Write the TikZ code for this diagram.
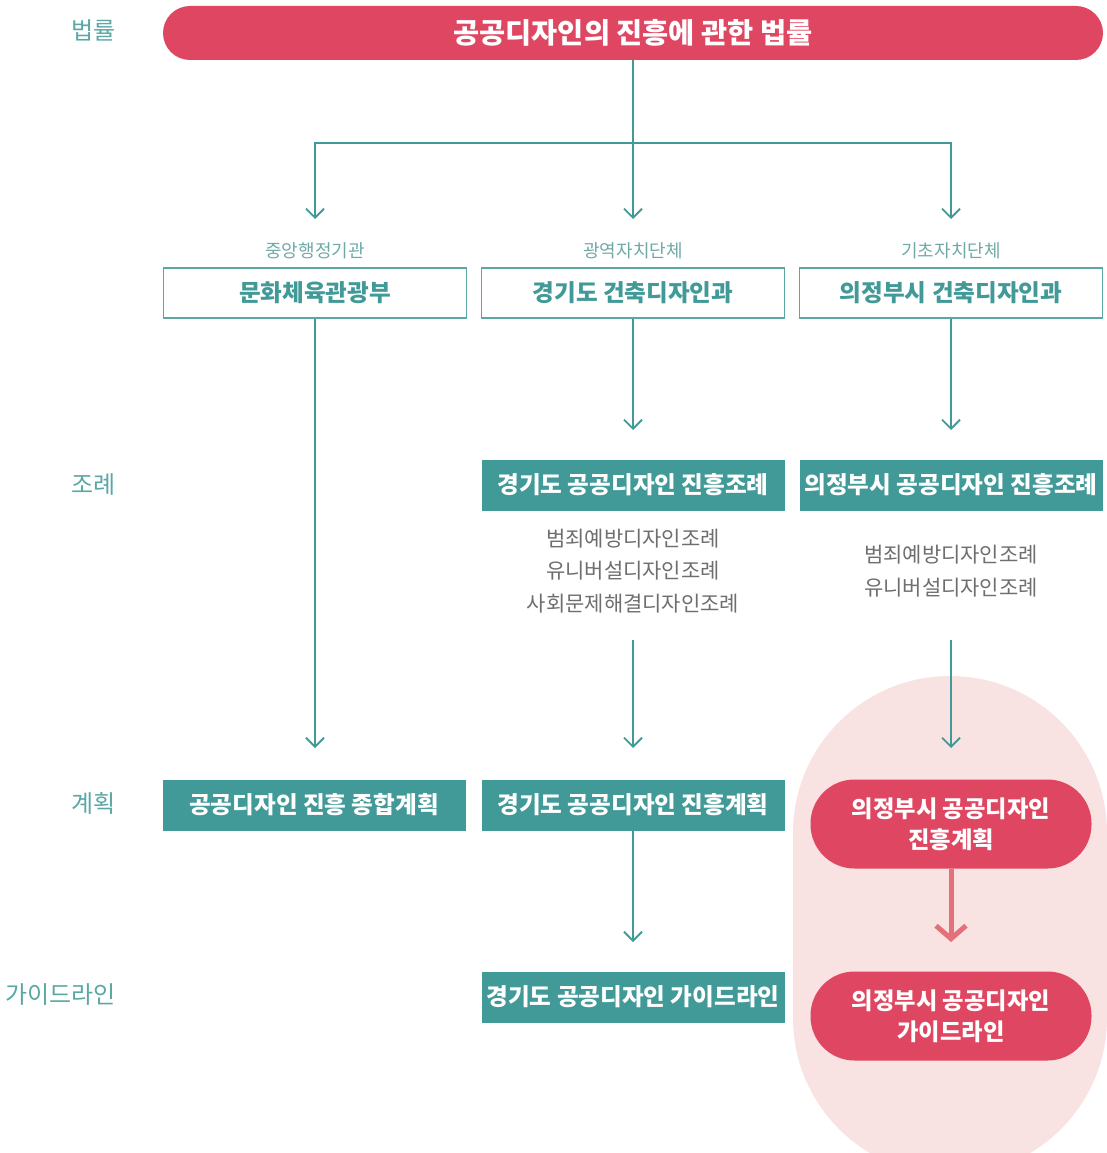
\documentclass[tikz,border=0pt]{standalone}
\usepackage{fontspec}
\setmainfont{Noto Sans CJK KR}
\usetikzlibrary{arrows.meta}
\definecolor{tealA}{HTML}{419A98}
\definecolor{tealB}{HTML}{5AA7A4}
\definecolor{redA}{HTML}{DE4661}
\definecolor{pinkbg}{HTML}{F9E3E2}
\definecolor{redarrow}{HTML}{E4707A}
\definecolor{graytext}{HTML}{6E6E6E}
\definecolor{smalllab}{HTML}{6FA9A6}
\begin{document}
\begin{tikzpicture}[x=1pt,y=-1pt,
  conn/.style={draw=tealA, line width=1.8pt},
  arr/.style={conn, -{Straight Barb[length=9pt,width=18pt]}},
  redarr/.style={draw=redarrow, line width=5pt, -{Straight Barb[length=13pt,width=30pt]}},
  rowlab/.style={anchor=east, text=tealB, font=\fontsize{24}{26}\selectfont, inner sep=0pt},
  smlab/.style={text=smalllab, font=\fontsize{18}{20}\selectfont, inner sep=0pt},
  outbox/.style={draw=tealB, line width=1.1pt, fill=white, minimum width=303pt, minimum height=50pt, inner sep=0pt, text=tealA, font=\fontsize{23.6}{26}\selectfont\bfseries},
  fillbox/.style={fill=tealA, minimum width=303pt, minimum height=51pt, inner sep=0pt, text=white, font=\fontsize{23.6}{26}\selectfont\bfseries},
  redbox/.style={fill=redA, rounded corners=44pt, minimum width=281pt, minimum height=89pt, inner sep=0pt, text=white, align=center, font=\fontsize{23.3}{31}\selectfont\bfseries},
  graylist/.style={text=graytext, align=center, inner sep=0pt, font=\fontsize{21}{32.5}\selectfont}
]
\useasboundingbox (0,0) rectangle (1107,1153);
\begin{scope}
\clip (0,0) rectangle (1107,1153);
\fill[pinkbg, rounded corners=157pt] (793,676) rectangle (1107,1175);
\end{scope}

% law bar
\node[fill=redA, rounded corners=27pt, minimum width=940pt, minimum height=54pt, inner sep=0pt,
  text=white, font=\fontsize{28.4}{32}\selectfont\bfseries] (law) at (633,33) {공공디자인의 진흥에 관한 법률};

% row labels
\node[rowlab] (r1) at (116,30) {법률};
\node[rowlab] (r2) at (116,485) {조례};
\node[rowlab] (r3) at (116,803) {계획};
\node[rowlab] (r4) at (116,995) {가이드라인};

% small labels
\node[smlab] (s1) at (315,251) {중앙행정기관};
\node[smlab] (s2) at (633,251) {광역자치단체};
\node[smlab] (s3) at (951,251) {기초자치단체};

% outlined boxes
\node[outbox] (b1) at (315,293) {문화체육관광부};
\node[outbox] (b2) at (633,293) {경기도 건축디자인과};
\node[outbox] (b3) at (951,293) {의정부시 건축디자인과};

% ordinance boxes
\node[fillbox] (o2) at (633,485) {경기도 공공디자인 진흥조례};
\node[fillbox] (o3) at (951,485) {의정부시 공공디자인 진흥조례};

\node[graylist] (g2) at (633,571) {범죄예방디자인조례\\유니버설디자인조례\\사회문제해결디자인조례};
\node[graylist] (g3) at (951,571) {범죄예방디자인조례\\유니버설디자인조례};

% plan boxes
\node[fillbox] (p1) at (314,805) {공공디자인 진흥 종합계획};
\node[fillbox] (p2) at (633,805) {경기도 공공디자인 진흥계획};
\node[redbox] (p3) at (951,824) {의정부시 공공디자인\\진흥계획};

% guideline boxes
\node[fillbox] (d2) at (633,997) {경기도 공공디자인 가이드라인};
\node[redbox] (d3) at (951,1016) {의정부시 공공디자인\\가이드라인};

% coordinates
\coordinate (jl) at (315,143);
\coordinate (jr) at (951,143);
\coordinate (t1) at (315,219);
\coordinate (t2) at (633,219);
\coordinate (t3) at (951,219);
\coordinate (u2) at (633,430);
\coordinate (u3) at (951,430);
\coordinate (v2s) at (633,640);
\coordinate (v3s) at (951,640);
\coordinate (v1) at (315,748);
\coordinate (v2) at (633,748);
\coordinate (v3) at (951,748);
\coordinate (w2) at (633,942);
\coordinate (w3) at (951,942);

% connectors
\draw[arr] (law.south) -- (t2);
\draw[arr] (jr) -- (jl) -- (t1);
\draw[arr] (jl) -- (jr) -- (t3);
\draw[arr] (b2.south) -- (u2);
\draw[arr] (b3.south) -- (u3);
\draw[arr] (b1.south) -- (v1);
\draw[arr] (v2s) -- (v2);
\draw[arr] (v3s) -- (v3);
\draw[arr] (p2.south) -- (w2);
\draw[redarr] (p3.south) -- (w3);
\end{tikzpicture}
\end{document}
